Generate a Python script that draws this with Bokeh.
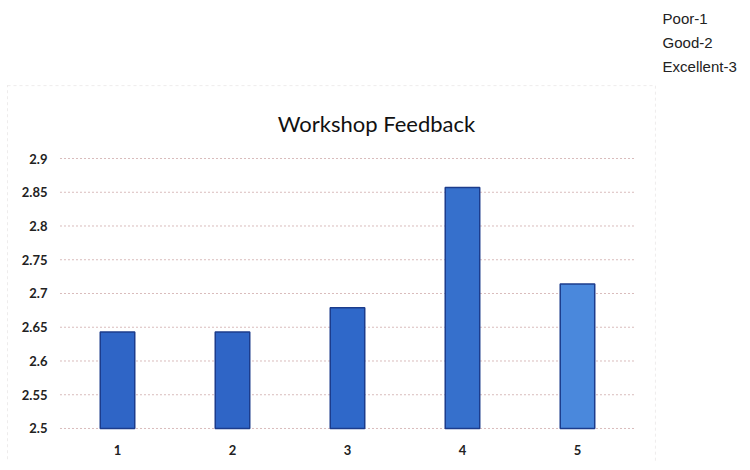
from bokeh.plotting import figure
from bokeh.models import FixedTicker, Label, BoxAnnotation, Range1d
from bokeh.embed import file_html
from bokeh.resources import INLINE

categories = [1, 2, 3, 4, 5]
cat_labels = ["1", "2", "3", "4", "5"]
values = [2.643, 2.643, 2.679, 2.857, 2.714]
bar_colors = ["#2f65c6", "#2f65c6", "#2f68c9", "#3670cc", "#4a88dc"]
y_ticks = [2.5, 2.55, 2.6, 2.65, 2.7, 2.75, 2.8, 2.85, 2.9]
y_labels = ["2.5", "2.55", "2.6", "2.65", "2.7", "2.75", "2.8", "2.85", "2.9"]
title_text = "Workshop Feedback"
key_lines = ["Poor-1", "Good-2", "Excellent-3"]

p = figure(width=742, height=462, output_backend="svg", toolbar_location=None,
           x_range=Range1d(-0.0174, 6.435), y_range=Range1d(2.4496, 3.1341),
           min_border_left=0, min_border_right=0, min_border_top=0, min_border_bottom=0)
p.outline_line_color = None
p.background_fill_color = "white"
p.border_fill_color = "white"

# grid lines spanning the category span
p.segment(x0=0.5, x1=5.5, y0=y_ticks, y1=y_ticks, line_color="#d9bcbc",
          line_dash="2 2", line_width=1)

p.vbar(x=categories, top=values, bottom=2.5, width=0.3, fill_color=bar_colors,
       line_color="#1c3c8c", line_width=1.5)

p.xaxis.ticker = FixedTicker(ticks=categories)
p.xaxis.major_label_overrides = {c: l for c, l in zip(categories, cat_labels)}
p.yaxis.ticker = FixedTicker(ticks=y_ticks)
p.yaxis.major_label_overrides = {t: l for t, l in zip(y_ticks, y_labels)}
for ax in (p.xaxis[0], p.yaxis[0]):
    ax.axis_line_color = None
    ax.major_tick_line_color = None
    ax.minor_tick_line_color = None
    ax.major_tick_out = 0
    ax.major_tick_in = 0
    ax.major_label_text_font = "Lato"
    ax.major_label_text_font_size = "13px"
    ax.major_label_text_font_style = "bold"
    ax.major_label_text_color = "#222222"
p.yaxis.major_label_standoff = -47
p.xaxis.major_label_standoff = -18

p.xgrid.grid_line_color = None
p.ygrid.grid_line_color = None

p.add_layout(Label(x=3.252, y=2.952, text=title_text, text_align="center",
                   text_baseline="middle", text_font="Lato", text_font_size="22px",
                   text_color="#111111"))

for i, t in enumerate(key_lines):
    p.add_layout(Label(x=5.74, y=3.107 - i * 0.0356, text=t, text_align="left",
                       text_baseline="middle", text_font="Liberation Sans",
                       text_font_size="15px", text_color="#222222"))

p.add_layout(BoxAnnotation(left=0.0435, right=5.678, top=3.008, bottom=2.3,
                           fill_color=None, line_color="#c8c0c0", line_dash="3 3",
                           line_width=1))

open("out.html", "w").write(file_html(p, INLINE))
